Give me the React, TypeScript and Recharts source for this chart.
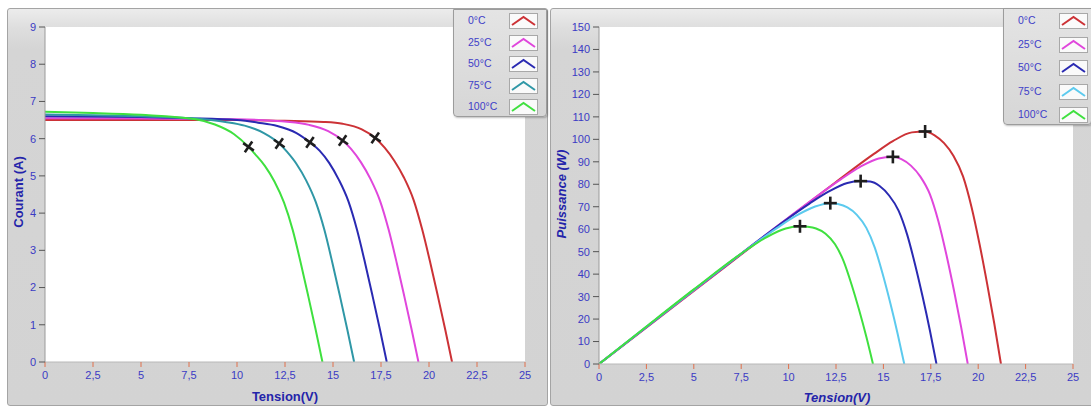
import React from 'react';
import { ComposedChart, Line, XAxis, YAxis, ReferenceDot } from 'recharts';

const tempLabels = ['0°C', '25°C', '50°C', '75°C', '100°C'];
const colorsIV = ['#cc3236', '#e046dc', '#2a2ab2', '#2f97a6', '#3fe03f'];
const colorsPV = ['#cc3236', '#e046dc', '#2a2ab2', '#5ccaee', '#3fe03f'];

// Voltage samples (V) per temperature
const volt0 = [0, 5, 10, 12.5, 14.5, 15.5, 16.5, 17.2, 17.7, 18.2, 18.7, 19.2, 19.65, 20.07, 20.47, 20.85, 21.2];
const volt25 = [0, 5, 10, 12.75, 13.75, 14.75, 15.5, 15.95, 16.45, 16.95, 17.45, 17.9, 18.32, 18.72, 19.1, 19.45];
const volt50 = [0, 5, 7.5, 10, 11.1, 12.1, 13.1, 13.8, 14.3, 14.8, 15.3, 15.8, 16.25, 16.67, 17.07, 17.45, 17.8];
const volt75 = [0, 2.5, 5, 7.5, 9.4, 10.4, 11.4, 12.2, 12.6, 13.1, 13.6, 14.1, 14.55, 14.97, 15.37, 15.75, 16.1];
const volt100 = [0, 2.5, 5, 7.85, 8.85, 9.85, 10.6, 10.95, 11.45, 11.95, 12.45, 12.9, 13.32, 13.72, 14.1, 14.45];

// Current (A)
const cur0 = [6.5, 6.5, 6.5, 6.48, 6.45, 6.4, 6.25, 6.02, 5.75, 5.4, 4.95, 4.35, 3.55, 2.66, 1.75, 0.86, 0];
const cur25 = [6.55, 6.54, 6.52, 6.45, 6.37, 6.2, 5.95, 5.72, 5.37, 4.92, 4.33, 3.55, 2.66, 1.75, 0.86, 0];
const cur50 = [6.6, 6.58, 6.55, 6.5, 6.43, 6.34, 6.15, 5.9, 5.68, 5.35, 4.9, 4.32, 3.55, 2.66, 1.75, 0.86, 0];
const cur75 = [6.65, 6.63, 6.6, 6.55, 6.45, 6.35, 6.15, 5.87, 5.65, 5.32, 4.88, 4.3, 3.55, 2.66, 1.75, 0.86, 0];
const cur100 = [6.72, 6.69, 6.64, 6.52, 6.38, 6.12, 5.78, 5.58, 5.27, 4.85, 4.28, 3.55, 2.66, 1.75, 0.86, 0];

// Power (W)
const pow0 = [0, 32.5, 65.0, 81.0, 93.5, 99.2, 103.1, 103.5, 101.8, 98.3, 92.6, 83.5, 69.8, 53.4, 35.8, 17.9, 0];
const pow25 = [0, 32.7, 65.2, 82.2, 87.6, 91.5, 92.2, 91.2, 88.3, 83.4, 75.6, 63.5, 48.7, 32.8, 16.4, 0];
const pow50 = [0, 32.9, 49.1, 65.0, 71.4, 76.7, 80.6, 81.4, 81.2, 79.2, 75.0, 68.3, 57.7, 44.3, 29.9, 15.0, 0];
const pow75 = [0, 16.6, 33.0, 49.1, 60.6, 66.0, 70.1, 71.6, 71.2, 69.7, 66.4, 60.6, 51.7, 39.8, 26.9, 13.5, 0];
const pow100 = [0, 16.7, 33.2, 51.2, 56.5, 60.3, 61.3, 61.1, 60.3, 58.0, 53.3, 45.8, 35.4, 24.0, 12.1, 0];

// Maximum power points
const mppV = [17.2, 15.5, 13.8, 12.2, 10.6];
const mppI = [6.02, 5.95, 5.9, 5.87, 5.78];
const mppP = [103.5, 92.2, 81.4, 71.6, 61.3];

const xTicks = [0, 2.5, 5, 7.5, 10, 12.5, 15, 17.5, 20, 22.5, 25];
const iTicks = [0, 1, 2, 3, 4, 5, 6, 7, 8, 9];
const pTicks = [0, 10, 20, 30, 40, 50, 60, 70, 80, 90, 100, 110, 120, 130, 140, 150];

const volts = [volt0, volt25, volt50, volt75, volt100];
const currents = [cur0, cur25, cur50, cur75, cur100];
const powers = [pow0, pow25, pow50, pow75, pow100];

const ivSeries = volts.map((vs, k) => vs.map((v, j) => ({ v, y: currents[k][j] })));
const pvSeries = volts.map((vs, k) => vs.map((v, j) => ({ v, y: powers[k][j] })));

const FONT = '"Liberation Sans", Arial, sans-serif';
const tickStyle = { fill: '#3b3bc4', fontSize: 11, fontFamily: FONT };
const fmt = (v: number) => String(v).replace('.', ',');

const makeCross = (rot: number) => (props: any) => {
  const { cx, cy } = props;
  if (cx == null || cy == null) return <g />;
  const a = 6.5;
  return (
    <g transform={`translate(${cx},${cy}) rotate(${rot})`}>
      <line x1={-a} y1={0} x2={a} y2={0} stroke="#1e1e1e" strokeWidth={2.6} />
      <line x1={0} y1={-a} x2={0} y2={a} stroke="#1e1e1e" strokeWidth={2.6} />
    </g>
  );
};

const LegendBox = ({ left, top, width, height, rowTop, rowGap, textX, swX, colors }: any) => (
  <div
    style={{
      position: 'absolute', left, top, width, height,
      background: 'linear-gradient(to bottom, #e4e4e4, #d6d6d6)',
      border: '1px solid #9c9c9c', borderRadius: '0 0 4px 4px',
      boxShadow: '1px 1px 2px rgba(0,0,0,0.25)', boxSizing: 'border-box',
    }}
  >
    {tempLabels.map((t, k) => (
      <div key={t} style={{ position: 'absolute', left: 0, top: rowTop + k * rowGap - 8, height: 16, width }}>
        <span style={{ position: 'absolute', left: textX, top: 1, fontFamily: FONT, fontSize: 10.5, color: '#4040c8' }}>{t}</span>
        <svg style={{ position: 'absolute', left: swX, top: 0 }} width={29} height={16}>
          <rect x={0.5} y={0.5} width={28} height={15} fill="#fafafa" stroke="#a8a8a8" />
          <polyline points="3,12 14.5,4 26,12" fill="none" stroke={colors[k]} strokeWidth={2} />
        </svg>
      </div>
    ))}
  </div>
);

const Frame = ({ left, top, width, height }: any) => (
  <div
    style={{
      position: 'absolute', left, top, width, height,
      background: 'linear-gradient(to bottom, #ececec 0px, #dedede 19px, #d5d5d5 40px, #d3d3d3 100%)',
      border: '1px solid #a4a4a4', borderRadius: 3, boxSizing: 'border-box',
    }}
  />
);

const Title = ({ x, y, text, rotate, italic }: any) => (
  <div
    style={{
      position: 'absolute', left: x, top: y, whiteSpace: 'nowrap',
      transform: `translate(-50%, -50%)${rotate ? ' rotate(-90deg)' : ''}`,
      fontFamily: FONT, fontWeight: 'bold', fontStyle: italic ? 'italic' : 'normal',
      fontSize: 13, color: '#2424aa',
    }}
  >
    {text}
  </div>
);

export default function App() {
  return (
    <div style={{ position: 'fixed', left: 0, top: 0, width: 1091, height: 408, background: '#ffffff', overflow: 'hidden' }}>
      <Frame left={7} top={8} width={541} height={398} />
      <Frame left={550} top={8} width={545} height={398} />
      <div style={{ position: 'absolute', left: 45, top: 27, width: 480, height: 335, background: '#fff' }} />
      <div style={{ position: 'absolute', left: 599, top: 27, width: 474, height: 337, background: '#fff' }} />

      <div style={{ position: 'absolute', left: 0, top: 0 }}>
        <ComposedChart width={547} height={408} margin={{ top: 27, right: 22, bottom: 16, left: 15 }}>
          <XAxis
            type="number" dataKey="v" domain={[0, 25]} ticks={xTicks} tickFormatter={fmt}
            allowDataOverflow height={30} tick={tickStyle} tickSize={5} tickMargin={4}
            axisLine={{ stroke: '#b8b8b8' }} tickLine={{ stroke: '#e0704c' }}
          />
          <YAxis
            type="number" domain={[0, 9]} ticks={iTicks} allowDataOverflow width={30}
            tick={tickStyle} tickSize={6} tickMargin={3}
            axisLine={{ stroke: '#9a9a9a' }} tickLine={{ stroke: '#555' }}
          />
          {ivSeries.map((d, k) => (
            <Line
              key={k} data={d} dataKey="y" type="monotone" stroke={colorsIV[k]} strokeWidth={2}
              dot={false} isAnimationActive={false}
            />
          ))}
          {mppV.map((v, k) => (
            <ReferenceDot key={k} x={v} y={mppI[k]} r={6} shape={makeCross(35)} />
          ))}
        </ComposedChart>
      </div>

      <div style={{ position: 'absolute', left: 550, top: 0 }}>
        <ComposedChart width={541} height={408} margin={{ top: 27, right: 18, bottom: 14, left: 13 }}>
          <XAxis
            type="number" dataKey="v" domain={[0, 25]} ticks={xTicks} tickFormatter={fmt}
            allowDataOverflow height={30} tick={tickStyle} tickSize={5} tickMargin={4}
            axisLine={{ stroke: '#b8b8b8' }} tickLine={{ stroke: '#e0704c' }}
          />
          <YAxis
            type="number" domain={[0, 150]} ticks={pTicks} allowDataOverflow width={36}
            tick={tickStyle} tickSize={6} tickMargin={3}
            axisLine={{ stroke: '#9a9a9a' }} tickLine={{ stroke: '#555' }}
          />
          {pvSeries.map((d, k) => (
            <Line
              key={k} data={d} dataKey="y" type="monotone" stroke={colorsPV[k]} strokeWidth={2}
              dot={false} isAnimationActive={false}
            />
          ))}
          {mppV.map((v, k) => (
            <ReferenceDot key={k} x={v} y={mppP[k]} r={6} shape={makeCross(0)} />
          ))}
        </ComposedChart>
      </div>

      <Title x={285} y={396} text="Tension(V)" />
      <Title x={837} y={397} text="Tension(V)" italic />
      <Title x={18} y={192} text="Courant (A)" rotate />
      <Title x={561} y={194} text="Puissance (W)" rotate italic />

      <LegendBox left={453} top={9} width={94} height={108} rowTop={11} rowGap={21.5} textX={14} swX={55} colors={colorsIV} />
      <LegendBox left={1003} top={8} width={89} height={117} rowTop={12} rowGap={23.5} textX={14} swX={55} colors={colorsPV} />
    </div>
  );
}
